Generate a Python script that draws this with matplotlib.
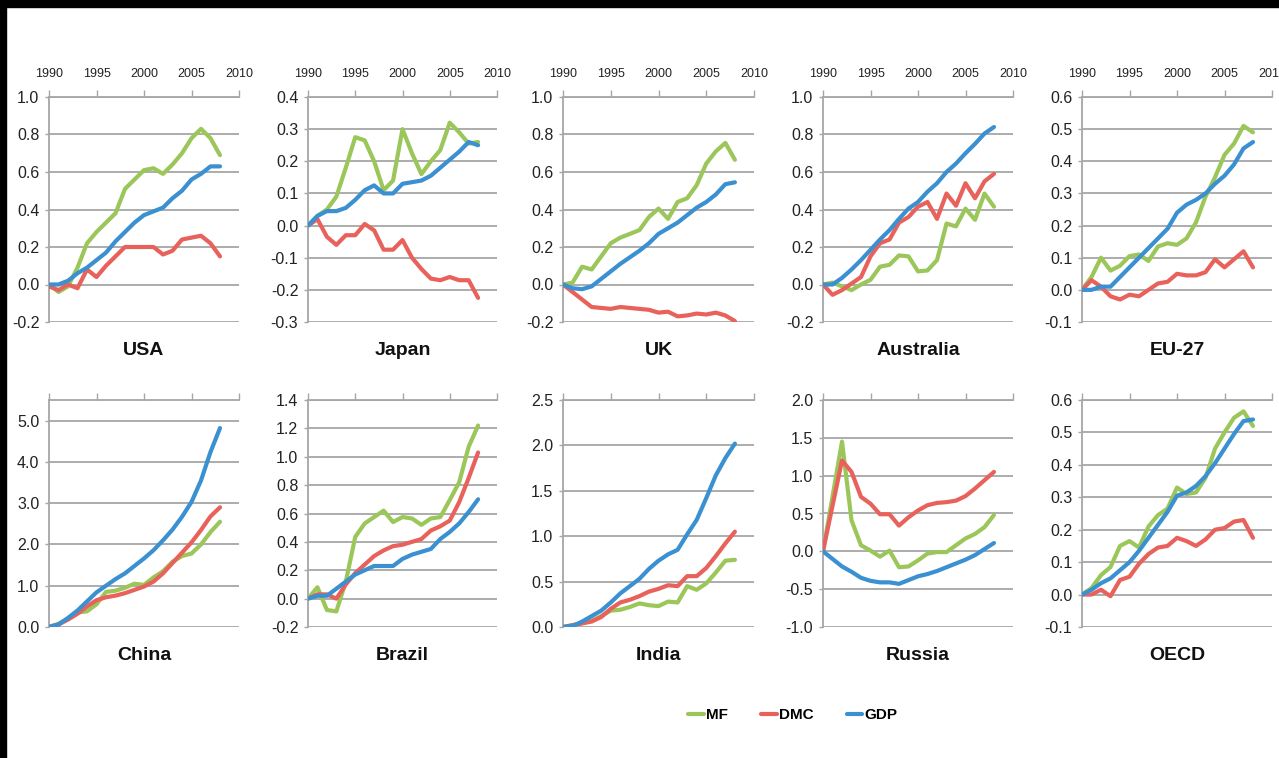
import matplotlib
matplotlib.use("Agg")
import matplotlib.pyplot as plt
import numpy as np
from matplotlib.ticker import FormatStrFormatter, MultipleLocator
from matplotlib.patches import Rectangle

plt.rcParams['font.family'] = ['Liberation Sans', 'DejaVu Sans']
plt.rcParams['axes.unicode_minus'] = False

years = list(range(1990, 2009))
series_names = ['MF', 'DMC', 'GDP']
titles = ['USA', 'Japan', 'UK', 'Australia', 'EU-27',
          'China', 'Brazil', 'India', 'Russia', 'OECD']

usa_mf = [0.0, -0.04, -0.01, 0.09, 0.22, 0.28, 0.33, 0.38, 0.51, 0.56, 0.61, 0.62, 0.59, 0.64, 0.70, 0.78, 0.83, 0.78, 0.69]
usa_dmc = [-0.01, -0.03, 0.0, -0.02, 0.08, 0.04, 0.10, 0.15, 0.20, 0.20, 0.20, 0.20, 0.16, 0.18, 0.24, 0.25, 0.26, 0.22, 0.15]
usa_gdp = [0.0, 0.0, 0.02, 0.06, 0.09, 0.13, 0.17, 0.23, 0.28, 0.33, 0.37, 0.39, 0.41, 0.46, 0.50, 0.56, 0.59, 0.63, 0.63]

japan_mf = [0.0, 0.03, 0.05, 0.09, 0.18, 0.275, 0.265, 0.20, 0.11, 0.14, 0.30, 0.225, 0.16, 0.20, 0.235, 0.32, 0.29, 0.255, 0.26]
japan_dmc = [0.0, 0.02, -0.035, -0.06, -0.03, -0.03, 0.005, -0.015, -0.075, -0.075, -0.045, -0.10, -0.135, -0.165, -0.17, -0.16, -0.17, -0.17, -0.225]
japan_gdp = [0.0, 0.03, 0.045, 0.045, 0.055, 0.08, 0.11, 0.125, 0.10, 0.10, 0.13, 0.135, 0.14, 0.155, 0.18, 0.205, 0.23, 0.26, 0.25]

uk_mf = [0.0, 0.01, 0.095, 0.08, 0.15, 0.22, 0.25, 0.27, 0.29, 0.36, 0.405, 0.35, 0.44, 0.46, 0.53, 0.645, 0.71, 0.755, 0.665]
uk_dmc = [0.0, -0.04, -0.08, -0.12, -0.125, -0.13, -0.12, -0.125, -0.13, -0.135, -0.15, -0.145, -0.17, -0.165, -0.155, -0.16, -0.15, -0.165, -0.195]
uk_gdp = [0.0, -0.02, -0.025, -0.01, 0.03, 0.07, 0.11, 0.145, 0.18, 0.22, 0.27, 0.30, 0.33, 0.37, 0.41, 0.44, 0.48, 0.535, 0.545]

aus_mf = [0.0, 0.01, -0.01, -0.03, 0.0, 0.025, 0.095, 0.105, 0.155, 0.15, 0.07, 0.075, 0.13, 0.325, 0.31, 0.405, 0.345, 0.485, 0.415]
aus_dmc = [0.0, -0.055, -0.03, 0.005, 0.04, 0.15, 0.22, 0.24, 0.33, 0.36, 0.415, 0.44, 0.35, 0.485, 0.42, 0.54, 0.46, 0.55, 0.59]
aus_gdp = [0.0, 0.0, 0.035, 0.08, 0.13, 0.185, 0.24, 0.29, 0.35, 0.405, 0.44, 0.495, 0.54, 0.60, 0.645, 0.70, 0.75, 0.805, 0.84]

eu_mf = [0.0, 0.04, 0.10, 0.06, 0.075, 0.105, 0.11, 0.09, 0.135, 0.145, 0.14, 0.16, 0.21, 0.29, 0.35, 0.42, 0.455, 0.51, 0.49]
eu_dmc = [0.0, 0.03, 0.01, -0.02, -0.03, -0.015, -0.02, 0.0, 0.02, 0.025, 0.05, 0.045, 0.045, 0.055, 0.095, 0.07, 0.095, 0.12, 0.07]
eu_gdp = [0.0, 0.0, 0.01, 0.01, 0.04, 0.07, 0.10, 0.13, 0.16, 0.19, 0.24, 0.265, 0.28, 0.30, 0.33, 0.355, 0.39, 0.44, 0.46]

china_mf = [0.0, 0.08, 0.2, 0.35, 0.38, 0.55, 0.85, 0.88, 0.95, 1.05, 1.02, 1.2, 1.35, 1.58, 1.72, 1.78, 2.0, 2.3, 2.55]
china_dmc = [0.0, 0.06, 0.18, 0.32, 0.5, 0.65, 0.72, 0.76, 0.82, 0.9, 0.98, 1.1, 1.3, 1.55, 1.8, 2.05, 2.35, 2.68, 2.9]
china_gdp = [0.0, 0.06, 0.22, 0.40, 0.62, 0.84, 1.0, 1.16, 1.30, 1.48, 1.66, 1.86, 2.10, 2.36, 2.67, 3.03, 3.55, 4.24, 4.82]

brazil_mf = [0.0, 0.08, -0.08, -0.09, 0.12, 0.435, 0.53, 0.575, 0.62, 0.54, 0.575, 0.565, 0.52, 0.565, 0.575, 0.695, 0.82, 1.07, 1.22]
brazil_dmc = [0.0, 0.03, 0.03, 0.0, 0.1, 0.18, 0.24, 0.30, 0.34, 0.37, 0.38, 0.40, 0.42, 0.48, 0.51, 0.55, 0.68, 0.85, 1.03]
brazil_gdp = [0.0, 0.02, 0.02, 0.07, 0.12, 0.17, 0.20, 0.23, 0.23, 0.23, 0.28, 0.31, 0.33, 0.35, 0.42, 0.47, 0.53, 0.61, 0.70]

india_mf = [0.0, 0.02, 0.04, 0.07, 0.12, 0.18, 0.19, 0.22, 0.26, 0.24, 0.23, 0.28, 0.27, 0.45, 0.41, 0.48, 0.60, 0.73, 0.74]
india_dmc = [0.0, 0.02, 0.04, 0.06, 0.11, 0.20, 0.27, 0.30, 0.34, 0.39, 0.42, 0.46, 0.45, 0.56, 0.56, 0.65, 0.78, 0.92, 1.05]
india_gdp = [0.0, 0.01, 0.06, 0.12, 0.18, 0.27, 0.37, 0.45, 0.53, 0.64, 0.73, 0.80, 0.85, 1.02, 1.18, 1.42, 1.67, 1.86, 2.02]

russia_mf = [0.0, 0.72, 1.45, 0.41, 0.08, 0.01, -0.07, 0.01, -0.21, -0.20, -0.12, -0.03, -0.01, -0.01, 0.08, 0.17, 0.23, 0.32, 0.48]
russia_dmc = [0.0, 0.6, 1.2, 1.05, 0.72, 0.63, 0.49, 0.49, 0.34, 0.45, 0.54, 0.61, 0.64, 0.65, 0.67, 0.73, 0.83, 0.94, 1.05]
russia_gdp = [0.0, -0.1, -0.2, -0.27, -0.35, -0.39, -0.41, -0.41, -0.43, -0.38, -0.33, -0.30, -0.26, -0.21, -0.16, -0.11, -0.05, 0.03, 0.11]

oecd_mf = [0.0, 0.02, 0.06, 0.085, 0.15, 0.165, 0.145, 0.21, 0.245, 0.265, 0.33, 0.31, 0.315, 0.36, 0.45, 0.50, 0.545, 0.565, 0.52]
oecd_dmc = [0.0, 0.0, 0.015, -0.005, 0.045, 0.055, 0.095, 0.125, 0.145, 0.15, 0.175, 0.165, 0.15, 0.17, 0.20, 0.205, 0.225, 0.23, 0.175]
oecd_gdp = [0.0, 0.015, 0.035, 0.05, 0.075, 0.10, 0.135, 0.175, 0.215, 0.255, 0.305, 0.315, 0.335, 0.365, 0.405, 0.45, 0.495, 0.535, 0.54]

# y limits / tick step per panel
y_limits = [(-0.2, 1.0), (-0.3, 0.4), (-0.2, 1.0), (-0.2, 1.0), (-0.1, 0.6),
            (0.0, 5.5), (-0.2, 1.4), (0.0, 2.5), (-1.0, 2.0), (-0.1, 0.6)]
y_steps = [0.2, 0.1, 0.2, 0.2, 0.1, 1.0, 0.2, 0.5, 0.5, 0.1]

panel_data = [
    (usa_mf, usa_dmc, usa_gdp), (japan_mf, japan_dmc, japan_gdp),
    (uk_mf, uk_dmc, uk_gdp), (aus_mf, aus_dmc, aus_gdp),
    (eu_mf, eu_dmc, eu_gdp), (china_mf, china_dmc, china_gdp),
    (brazil_mf, brazil_dmc, brazil_gdp), (india_mf, india_dmc, india_gdp),
    (russia_mf, russia_dmc, russia_gdp), (oecd_mf, oecd_dmc, oecd_gdp),
]

colors = ['#9bc65a', '#e8625b', '#3a90d0']
grid_col = '#a6a6a6'

W, H = 1279, 758
fig = plt.figure(figsize=(W / 100, H / 100), dpi=100)

# axes boxes in pixels: left, right
col_x = [(49, 239), (308, 497), (563, 754), (823, 1013), (1082, 1272)]
row_y = [(97, 322), (400, 627)]

handles = []
for i, (name, data) in enumerate(zip(titles, panel_data)):
    r, c = divmod(i, 5)
    x0, x1 = col_x[c]
    y0, y1 = row_y[r]
    ax = fig.add_axes([x0 / W, 1 - y1 / H, (x1 - x0) / W, (y1 - y0) / H])
    for s, vals, col in zip(series_names, data, colors):
        ln, = ax.plot(years, vals, color=col, lw=3.0, solid_capstyle='round',
                      solid_joinstyle='round', label=s, zorder=3)
        if i == 0:
            handles.append(ln)
    lo, hi = y_limits[i]
    ax.set_ylim(lo, hi)
    ax.set_xlim(1990, 2010)
    ax.yaxis.set_major_locator(MultipleLocator(y_steps[i]))
    ax.yaxis.set_major_formatter(FormatStrFormatter('%.1f'))
    ax.set_xticks([1990, 1995, 2000, 2005, 2010])
    ax.xaxis.tick_top()
    ax.tick_params(axis='x', direction='out', length=5, width=1, color=grid_col,
                   labelsize=9, pad=7, labeltop=(r == 0), labelcolor='#222222')
    ax.tick_params(axis='y', direction='out', length=3, width=1, color=grid_col,
                   labelsize=11.5, pad=4, labelcolor='#222222')
    ax.grid(axis='y', color=grid_col, lw=1.3, zorder=0)
    for sp in ['right', 'bottom']:
        ax.spines[sp].set_visible(False)
    for sp in ['left', 'top']:
        ax.spines[sp].set_color(grid_col)
        ax.spines[sp].set_linewidth(1.3)
    ax.set_facecolor('none')
    ax.text(0.5, -0.09, name, transform=ax.transAxes, ha='center', va='top',
            fontsize=14, fontweight='bold', color='#111111')

fig.legend(handles=handles, labels=series_names, loc='center', ncol=3,
           bbox_to_anchor=(793 / W, 1 - 715 / H), frameon=False,
           handlelength=1.0, handletextpad=0.15, columnspacing=2.2,
           prop={'size': 11, 'weight': 'bold'})

# black frame bands from the original screenshot
fig.patches.append(Rectangle((0, 1 - 7 / H), 1, 7 / H, transform=fig.transFigure,
                             color='black', zorder=10))
fig.patches.append(Rectangle((0, 0), 6 / W, 1, transform=fig.transFigure,
                             color='black', zorder=10))

fig.savefig('out.png', dpi=100, facecolor='white')
